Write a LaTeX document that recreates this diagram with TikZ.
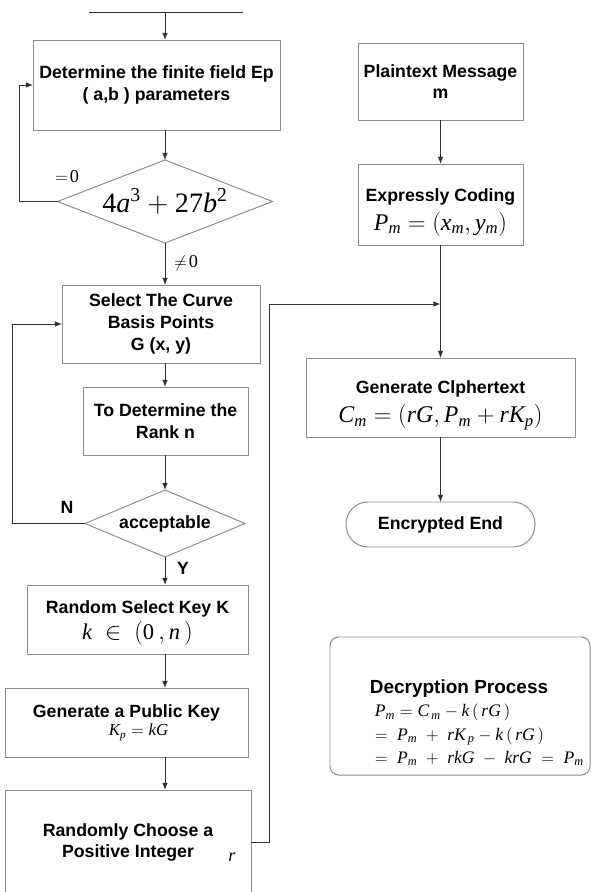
\documentclass[tikz,border=0pt]{standalone}
\usepackage{mathspec}
\setmainfont{Liberation Sans}
\setmathsfont(Digits,Latin){Liberation Serif}
\usetikzlibrary{shapes.geometric,arrows.meta}
\colorlet{BoxLine}{black!45}
\colorlet{ArrLine}{black!80}
\tikzset{
  box/.style={draw=BoxLine, line width=0.7pt, fill=white, align=center,
    inner sep=0pt, outer sep=0pt, font=\bfseries\fontsize{12.6}{15.5}\selectfont},
  sz/.style 2 args={minimum width=#1*0.025cm, minimum height=#2*0.025cm},
  cond/.style={diamond, draw=BoxLine, line width=0.7pt, fill=white,
    inner sep=0pt, outer sep=0pt},
  arr/.style={draw=ArrLine, line width=0.7pt, -{Latex[length=5pt,width=4pt]}},
  lin/.style={draw=ArrLine, line width=0.7pt},
  lab/.style={font=\fontsize{13}{15}\selectfont}
}

\begin{document}
\begin{tikzpicture}[x=0.025cm, y=-0.025cm]
        \clip (0,0) rectangle (594,892);
        %Left column
        \node[box, sz={247}{90}] (b1) at (156.5,85) {Determine the finite field Ep\\( a,b ) parameters};
        \node[cond, sz={215}{83}, aspect=2.6] (d1) at (165,201.5) {\fontsize{20}{24}\selectfont$4a^3+27b^2$};
        \node[box, sz={198}{78}] (b2) at (161,324) {Select The Curve\\Basis Points\\G (x, y)};
        \node[box, sz={165}{68}] (b3) at (165.5,421) {To Determine the\\Rank n};
        \node[cond, sz={160}{67}, aspect=2.4, font=\bfseries\fontsize{12.6}{14}\selectfont] (d2) at (165,523.5) {acceptable};
        \node[box, sz={221}{69}] (b4) at (137.5,619.5) {\rule{0pt}{14pt}Random Select Key K\\[2pt]{\fontsize{16}{18}\selectfont$k\ \in\ \big(0\,,n\,\big)$}};
        \node[box, sz={243}{69}, font=\bfseries\fontsize{12.6}{13}\selectfont] (b5) at (126.5,722.5) {Generate a Public Key\\\hspace*{0.6cm}{\fontsize{12}{13}\selectfont$K_p=kG$}};
        \node[box, sz={246}{105}] (b6) at (128,842.5) {Randomly Choose a\\Positive Integer};
        \node[lab] (rl) at (232,857) {$r$};
        %Right column
        \node[box, sz={165}{77}] (pm) at (440.5,81.5) {Plaintext Message\\m};
        \node[box, sz={165}{81}] (ec) at (440.5,204.5) {\rule{0pt}{20pt}Expressly Coding\\[4pt]{\fontsize{17}{20}\selectfont$P_m=(x_m,y_m)$}};
        \node[box, sz={269}{79}] (ct) at (440.5,397.5) {\rule{0pt}{20pt}Generate Clphertext\\[4pt]{\fontsize{17}{20}\selectfont$C_m=(rG,P_m+rK_p)$}};
        \node[box, sz={189}{45}, rounded corners=0.55cm] (ee) at (440.5,524.5) {Encrypted End};
        \node[box, sz={260}{138}, rounded corners=0.22cm] (dp) at (460,706) {};
        \node[font=\bfseries\fontsize{13.5}{15}\selectfont] (dt) at (459,689) {Decryption Process};
        \node[anchor=west, align=left, font=\fontsize{12.5}{16.5}\selectfont] (df) at (370,735)
          {$P_m = C_{\,m} - k\,(\,rG\,)$\\$=\;P_m\;+\;rK_{\,p} - k\,(\,rG\,)$\\$=\;P_m\;+\;rkG\;-\;krG\;=\;P_m$};
        %Labels
        \node[lab] (l0) at (67,177) {$=\!0$};
        \node[lab] (ln) at (186,263) {$\neq\!0$};
        \node[font=\bfseries\fontsize{12.6}{14}\selectfont] (lN) at (67,507) {N};
        \node[font=\bfseries\fontsize{12.6}{14}\selectfont] (lY) at (183,568) {Y};
        %Connectors
        \coordinate (tl) at (89,12);
        \coordinate (tr) at (243,12);
        \coordinate (mrg) at (440.5,304);
        \draw[lin] (tl) -- (tr);
        \draw[arr] (tl -| d1.north) -- (b1.north -| d1.north);
        \draw[arr] (b1.south -| d1.north) -- (d1.north);
        \draw[arr] (d1.south) -- (b2.north -| d1.south);
        \draw[arr] (b2.south -| d1.south) -- (b3.north -| d1.south);
        \draw[arr] (b3.south -| d2.north) -- (d2.north);
        \draw[arr] (d2.south) -- (b4.north -| d2.south);
        \draw[arr] (b4.south -| d2.south) -- (b5.north -| d2.south);
        \draw[arr] (b5.south -| d2.south) -- (b6.north -| d2.south);
        \draw[arr] (d1.west) -- ++(-38,0) |- (b1.west);
        \draw[arr] (d2.west) -- ++(-73,0) |- (b2.west);
        \draw[arr] (b6.east) -- ++(18,0) |- (mrg);
        \draw[arr] (pm.south) -- (ec.north);
        \draw[arr] (ec.south) -- (ct.north);
        \draw[arr] (ct.south) -- (ee.north);
\end{tikzpicture}
\end{document}
